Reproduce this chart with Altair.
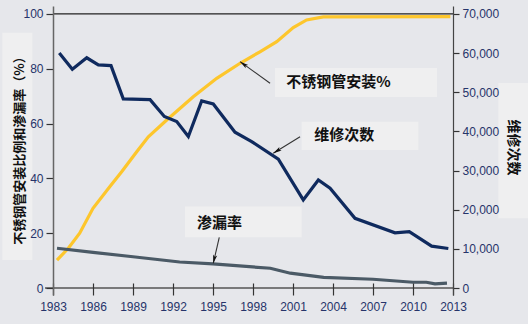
import math
import altair as alt
import pandas as pd

# ---------------- data ----------------
# stainless steel pipe installation share (%), left axis
ss_year = [1983.3, 1984.15, 1985.0, 1986.0, 1987.27, 1988.15, 1989.28, 1990.15, 1991.53,
           1993.52, 1995.28, 1997.03, 1998.52, 1999.78, 2001.02, 2002.02, 2003.27, 2012.8]
ss_pct = [10.2, 14.5, 20.0, 29.1, 37.0, 42.4, 49.7, 55.2, 61.3,
          69.8, 76.5, 82.0, 86.2, 89.9, 95.0, 97.8, 98.9, 99.0]

# number of repairs, right axis
mr_year = [1983.47, 1984.45, 1985.53, 1986.4, 1987.35, 1988.27, 1990.28, 1991.35, 1992.28,
           1993.15, 1994.15, 1995.02, 1996.65, 1997.9, 1999.9, 2001.77, 2002.9, 2003.78,
           2005.65, 2008.65, 2009.72, 2011.4, 2012.65]
mr_cnt = [60000, 55900, 58800, 57000, 56800, 48300, 48100, 43800, 42500,
          38700, 47800, 47000, 39800, 37400, 32900, 22500, 27600, 25500,
          17800, 14100, 14400, 10700, 10100]

# leakage rate (%), left axis
lk_year = [1983.3, 1986.0, 1989.0, 1992.5, 1995.0, 1999.3, 2000.8, 2003.3, 2007.0,
           2010.0, 2011.0, 2011.65, 2012.55]
lk_pct = [14.5, 13.0, 11.4, 9.5, 8.8, 7.2, 5.4, 3.9, 3.2, 2.1, 2.1, 1.5, 1.8]

x_ticks = [1983, 1986, 1989, 1992, 1995, 1998, 2001, 2004, 2007, 2010, 2013]
left_ticks = [0, 20, 40, 60, 80, 100]
right_ticks = [0, 10000, 20000, 30000, 40000, 50000, 60000, 70000]

left_title = "不锈钢管安装比例和渗漏率（%）"
right_title = "维修次数"
label_text = ["不锈钢管安装%", "维修次数", "渗漏率"]

# ---------------- annotation placement (data coordinates) ----------------
label_year = [2000.5, 2002.6, 1993.8]
label_pct = [75.2, 55.8, 23.7]
box_x1 = [1999.65, 2001.65, 1992.9, 1979.2, 2016.4]
box_x2 = [2011.8, 2010.4, 2001.65, 1981.45, 2018.7]
box_y1 = [80.3, 60.7, 29.7, 93.1, 74.8]
box_y2 = [69.7, 50.4, 18.5, 10.2, 25.5]
tail_year = [1999.28, 2001.53, 1995.47]
tail_pct = [74.7, 55.2, 18.5]
head_year = [1997.03, 1999.52, 1995.02]
head_pct = [82.6, 49.2, 9.0]

# ---------------- layout ----------------
W, H = 400, 289
X_DOM = [1983, 2013]
YL_DOM = [-2.55, 102.9]
YR_DOM = [YL_DOM[0] * 700, YL_DOM[1] * 700]
px_x = W / (X_DOM[1] - X_DOM[0])
px_y = H / (YL_DOM[1] - YL_DOM[0])

BG = "#e6e7eb"
BOX = "#efeff0"
YELLOW = "#fdc62c"
NAVY = "#0f2a5e"
SLATE = "#4b5a66"
LABEL_C = "#26346a"
CJK = "Noto Sans CJK SC"
NUM = "Liberation Sans"

ss_df = pd.DataFrame({"year": ss_year, "v": ss_pct})
mr_df = pd.DataFrame({"year": mr_year, "v": mr_cnt})
lk_df = pd.DataFrame({"year": lk_year, "v": lk_pct})
lab_df = pd.DataFrame({"year": label_year, "v": label_pct, "t": label_text})
box_df = pd.DataFrame({"year": box_x1, "x2": box_x2, "v": box_y1, "y2": box_y2})

angles = []
for tx, ty, hx, hy in zip(tail_year, tail_pct, head_year, head_pct):
    dx = (hx - tx) * px_x
    dy = -(hy - ty) * px_y
    angles.append(math.degrees(math.atan2(dx, -dy)) % 360)
arr_df = pd.DataFrame({"tx": tail_year, "ty": tail_pct, "year": head_year, "v": head_pct,
                       "ang": angles})

frame_df = pd.DataFrame({"year": [X_DOM[0], X_DOM[0] - 0.6], "x2": [X_DOM[1], X_DOM[1]],
                         "v": [100, 0], "c": ["#222222", "#555555"]})

xs = alt.Scale(domain=X_DOM, nice=False, zero=False)
yls = alt.Scale(domain=YL_DOM, nice=False, zero=False)
yrs = alt.Scale(domain=YR_DOM, nice=False, zero=False)

x_axis = alt.Axis(values=x_ticks, labelExpr="format(datum.value, 'd')", domain=False,
                  offset=-12, tickSize=12, tickColor="#333333", tickWidth=1.2, labelPadding=6,
                  labelFont=NUM, labelFontSize=12, labelColor=LABEL_C, labelFlush=False,
                  grid=False, title=None, zindex=1)
left_axis = alt.Axis(values=left_ticks, labelExpr="format(datum.value, 'd')",
                     domainColor="#666666", domainWidth=1.5, tickColor="#333333", tickSize=7,
                     tickWidth=1.2, labelPadding=3, labelFont=NUM, labelFontSize=12,
                     labelColor=LABEL_C, labelFlush=False, grid=False, title=left_title,
                     titleFont=CJK, titleFontSize=13, titleFontWeight="bold",
                     titleColor="#111111", titleAngle=270, titleX=-34, titleY=141,
                     titleAlign="center", titleBaseline="middle", zindex=1)
right_axis = alt.Axis(values=right_ticks, labelExpr="format(datum.value, ',')", orient="right",
                      domainColor="#444444", domainWidth=1.2, tickColor="#333333", tickSize=6,
                      tickWidth=1.2, labelPadding=3, labelFont=NUM, labelFontSize=12,
                      labelColor=LABEL_C, labelFlush=False, grid=False, title=right_title,
                      titleFont=CJK, titleFontSize=14, titleFontWeight="bold",
                      titleColor="#111111", titleAngle=90, titleX=59, titleY=141,
                      titleAlign="center", titleBaseline="middle", zindex=1)

X = alt.X("year:Q", scale=xs, axis=x_axis, title=None)
YL = alt.Y("v:Q", scale=yls, axis=left_axis, title=left_title)

boxes = alt.Chart(box_df).mark_rect(color=BOX, clip=False).encode(
    x=X, x2="x2:Q", y=YL, y2="y2:Q")

frame = alt.Chart(frame_df).mark_rule(strokeWidth=1.3, clip=False).encode(
    x=X, x2="x2:Q", y=YL, color=alt.Color("c:N", scale=None))

ss_line = alt.Chart(ss_df).mark_line(color=YELLOW, strokeWidth=3.2).encode(x=X, y=YL)
lk_line = alt.Chart(lk_df).mark_line(color=SLATE, strokeWidth=3.2).encode(x=X, y=YL)

arrow_lines = alt.Chart(arr_df).mark_rule(color="#333333", strokeWidth=1.1).encode(
    x=X, x2="tx:Q", y=YL, y2="ty:Q")
arrow_heads = alt.Chart(arr_df).mark_point(
    shape="M0,0L0.55,2.2L0,1.7L-0.55,2.2Z", filled=True, color="#111111", opacity=1,
    size=60).encode(x=X, y=YL, angle=alt.Angle("ang:Q", scale=None))

labels = alt.Chart(lab_df).mark_text(align="left", baseline="middle", font=CJK,
                                     fontSize=15, fontWeight="bold", color="#111111").encode(
    x=X, y=YL, text="t:N")

left_layer = alt.layer(boxes, frame, ss_line, lk_line, arrow_lines, arrow_heads, labels)

mr_line = alt.Chart(mr_df).mark_line(color=NAVY, strokeWidth=3.2).encode(
    x=X, y=alt.Y("v:Q", scale=yrs, axis=right_axis, title=right_title))

chart = alt.layer(left_layer, mr_line).resolve_scale(y="independent").properties(
    width=W, height=H, autosize=alt.AutoSizeParams(type="none"),
    padding={"left": 53, "top": 6, "right": 75, "bottom": 29},
    background=BG).configure_view(stroke=None)

chart.save("out.html", embed_options={"renderer": "svg", "actions": False})
